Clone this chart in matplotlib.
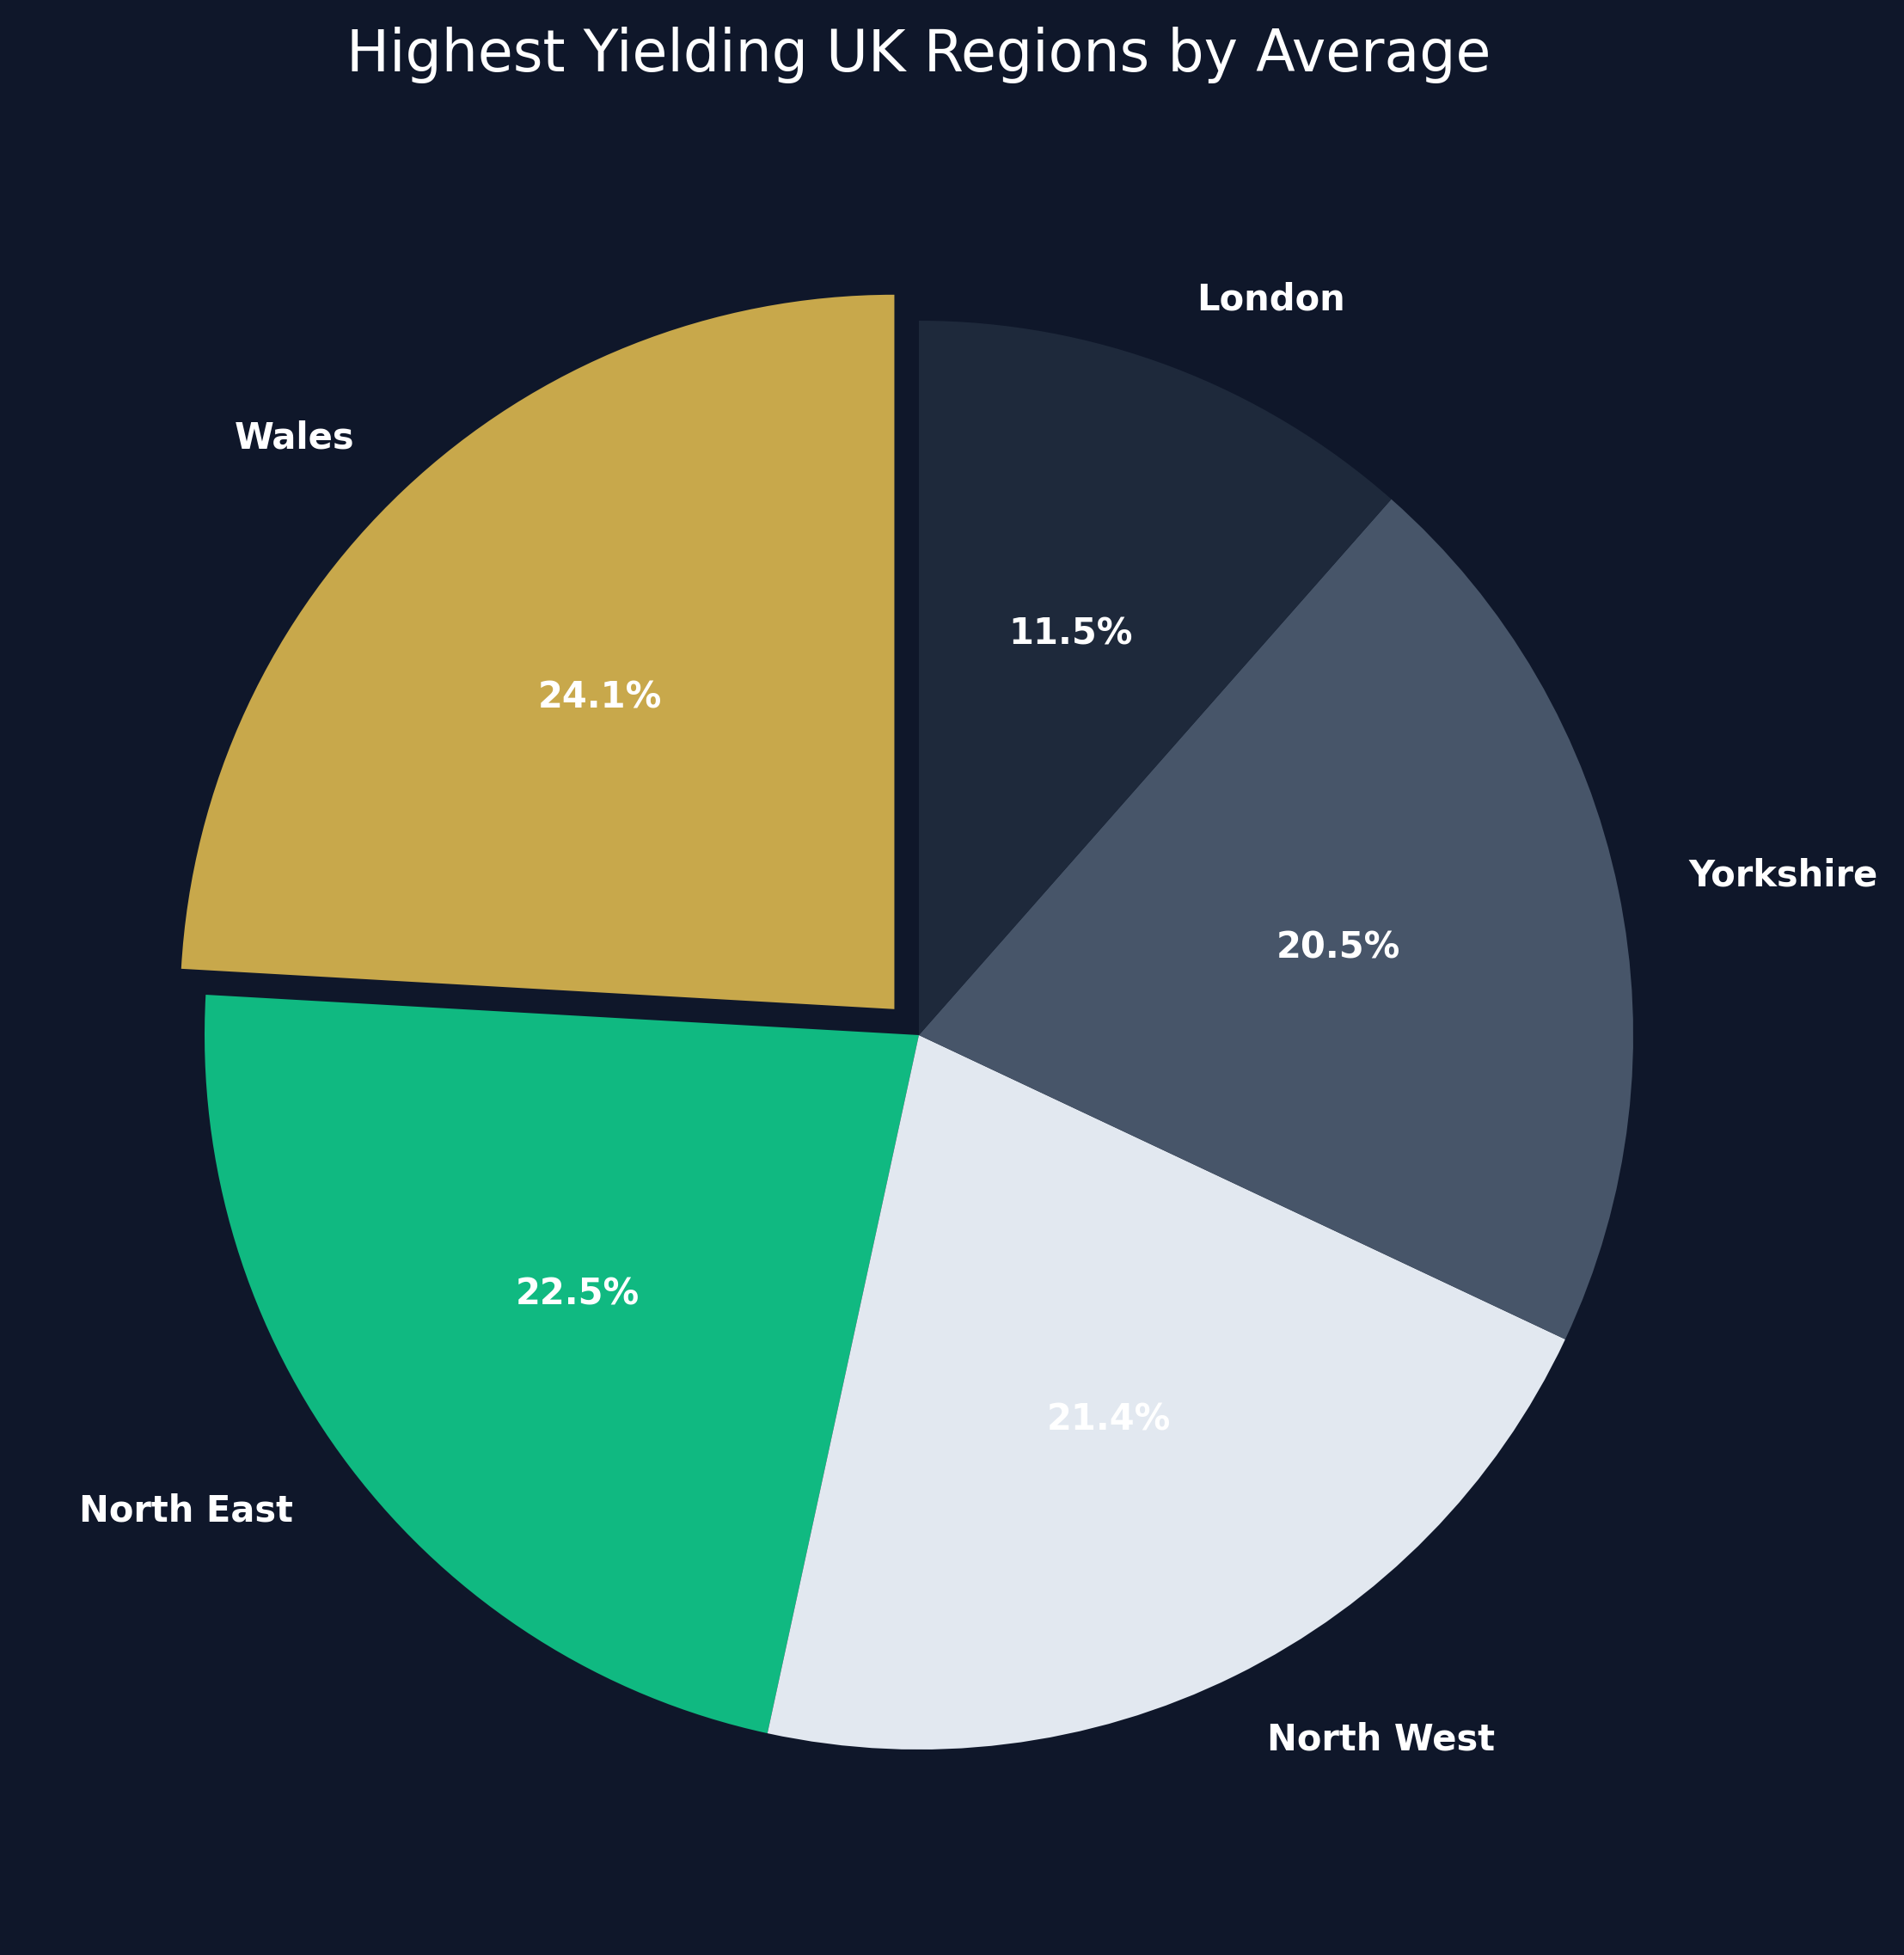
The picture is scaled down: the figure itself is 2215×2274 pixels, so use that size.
import matplotlib.pyplot as plt

regions = ['Wales', 'North East', 'North West', 'Yorkshire', 'London']
shares = [24.1, 22.5, 21.4, 20.5, 11.5]
colours = ['#c8a84b', '#10b981', '#e2e8f0', '#475569', '#1e293b']
explode = [0.05, 0, 0, 0, 0]

bg = '#0f172a'
W, H, dpi = 2215, 2274, 200
fig = plt.figure(figsize=(W / dpi, H / dpi), dpi=dpi, facecolor=bg)

# place the axes so the pie centre/radius match the reference (pixels)
cx, cy, r = 1069, 2274 - 1204, 831
lim = 1.25
half = lim * r
ax = fig.add_axes([(cx - half) / W, (cy - half) / H, 2 * half / W, 2 * half / H])
ax.set_facecolor(bg)

wedges, texts, autotexts = ax.pie(shares, labels=regions, colors=colours, explode=explode,
                                  autopct='%1.1f%%', startangle=90, counterclock=True,
                                  textprops={'color': 'white', 'fontsize': 15, 'fontweight': 'bold'})
ax.set_xlim(-lim, lim)
ax.set_ylim(-lim, lim)
ax.set_aspect('equal')
ax.axis('off')

# title is centred over the pie, not the figure
fig.text(cx / W, 1 - 64 / H, 'Highest Yielding UK Regions by Average', color='white',
         fontsize=24, ha='center', va='center')

fig.savefig('out.png', dpi=dpi, facecolor=bg)
